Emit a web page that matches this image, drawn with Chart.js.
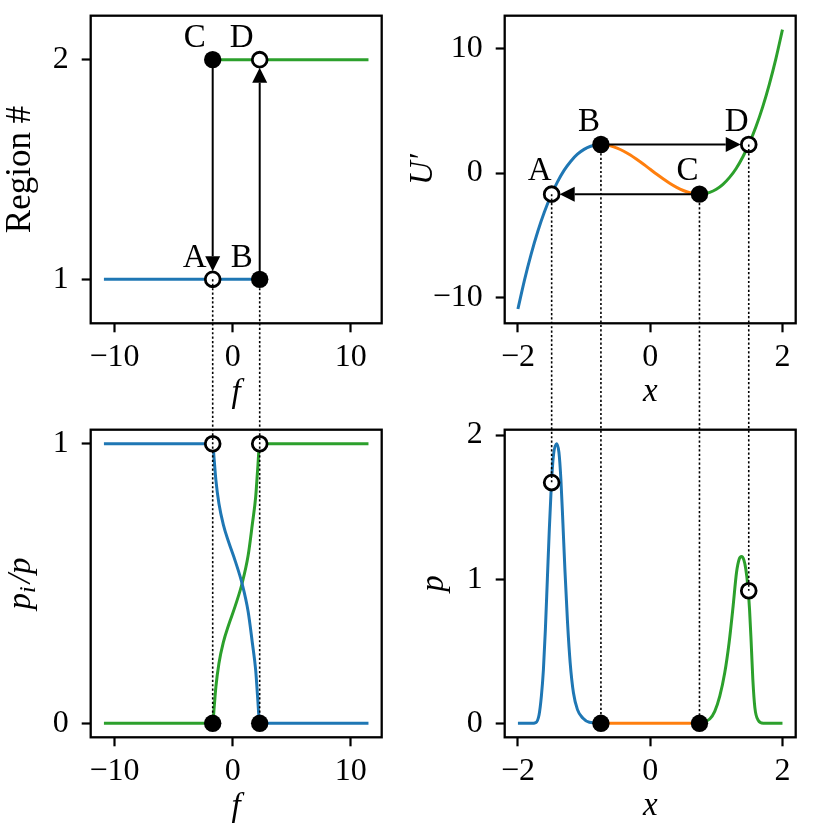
<!DOCTYPE html>
<html lang="es">
<head>
<meta charset="utf-8">
<title>Histeresis</title>
<script src="https://cdn.jsdelivr.net/npm/chart.js@4.4.1/dist/chart.umd.min.js"></script>
<style>
  html, body { margin: 0; padding: 0; background: #fff; }
  #figura { position: relative; width: 829px; height: 829px; }
  #figura canvas { position: absolute; left: 0; top: 0; }
</style>
</head>
<body>
<div id="figura">
  <canvas id="region" width="829" height="829"></canvas>
  <canvas id="potencial" width="829" height="829"></canvas>
  <canvas id="fraccion" width="829" height="829"></canvas>
  <canvas id="densidad" width="829" height="829"></canvas>
  <canvas id="conexiones" width="829" height="829"></canvas>
</div>
<script>
// ---- Datos ----

// Arriba izquierda: numero de region vs f
const fRegion1 = [-10.9, 2.29];
const region1 = [1, 1];
const fRegion2 = [-1.69, 11.5];
const region2 = [2, 2];

// Arriba derecha: U'(x) en tres ramas
const xUAzul = [-2.0, -1.9, -1.8, -1.7, -1.6, -1.5, -1.4, -1.3, -1.2, -1.1, -1.0, -0.9, -0.8, -0.745];
const uAzul = [-10.9, -8.56, -6.5, -4.69, -3.13, -1.8, -0.69, 0.23, 0.95, 1.51, 1.9, 2.15, 2.27, 2.29];
const xUNaranja = [-0.745, -0.7, -0.6, -0.5, -0.4, -0.3, -0.2, -0.1, 0, 0.1, 0.2, 0.3, 0.4, 0.5, 0.6, 0.7, 0.745];
const uNaranja = [2.29, 2.28, 2.18, 2.0, 1.75, 1.44, 1.08, 0.7, 0.3, -0.1, -0.48, -0.84, -1.15, -1.4, -1.58, -1.68, -1.69];
const xUVerde = [0.745, 0.8, 0.9, 1.0, 1.1, 1.2, 1.3, 1.4, 1.5, 1.6, 1.7, 1.8, 1.9, 2.0];
const uVerde = [-1.69, -1.67, -1.55, -1.3, -0.91, -0.35, 0.37, 1.29, 2.4, 3.73, 5.29, 7.1, 9.16, 11.5];

// Abajo izquierda: p_i/p vs f
const fFraccion = [-10.9, -1.69, -1.56, -1.42, -1.16, -0.785, -0.354, 0.221, 0.796, 1.31, 1.66, 1.95, 2.12, 2.29, 11.5];
const fraccionAzul = [1, 1, 0.94, 0.87, 0.785, 0.71, 0.65, 0.58, 0.5, 0.4, 0.29, 0.19, 0.09, 0, 0];
const fraccionVerde = [0, 0, 0.06, 0.13, 0.215, 0.29, 0.35, 0.42, 0.5, 0.6, 0.71, 0.81, 0.91, 1, 1];

// Abajo derecha: p(x)
const xPAzul = [-2.0, -1.9, -1.8, -1.73, -1.68, -1.645, -1.615, -1.585, -1.555, -1.525, -1.495, -1.465, -1.417, -1.38, -1.35, -1.32, -1.29, -1.25, -1.21, -1.16, -1.1, -1.02, -0.92, -0.745];
const pAzul = [0, 0, 0, 0.005, 0.06, 0.19, 0.37, 0.65, 1.0, 1.35, 1.65, 1.85, 1.94, 1.88, 1.69, 1.39, 1.07, 0.7, 0.42, 0.21, 0.095, 0.037, 0.007, 0];
const xPNaranja = [-0.745, 0.745];
const pNaranja = [0, 0];
const xPVerde = [0.745, 0.9, 0.976, 1.052, 1.127, 1.193, 1.254, 1.305, 1.345, 1.381, 1.416, 1.446, 1.476, 1.502, 1.527, 1.552, 1.583, 1.633, 1.709, 1.8, 1.9, 2.0];
const pVerde = [0, 0.03, 0.083, 0.188, 0.35, 0.559, 0.814, 1.046, 1.138, 1.157, 1.134, 1.069, 0.953, 0.791, 0.559, 0.304, 0.107, 0.021, 0, 0, 0, 0];

// Puntos A, B, C, D
const nombres = ['A', 'B', 'C', 'D'];
const rellenoPuntos = [false, true, true, false];
const fPuntos = [-1.69, 2.29, -1.69, 2.29];
const regionPuntos = [1, 1, 2, 2];
const xPuntos = [-1.49, -0.745, 0.745, 1.49];
const uPuntos = [-1.69, 2.29, -1.69, 2.29];
const pPuntos = [1.67, 0, 0, 0.92];
const fMarcasFraccion = [-1.69, 2.29, -1.69, 2.29];
const marcasFraccion = [0, 0, 1, 1];
const rellenoFraccion = [true, true, false, false];

// Ticks
const ticksF = [-10, 0, 10];
const ticksX = [-2, 0, 2];
const ticksRegion = [1, 2];
const ticksU = [-10, 0, 10];
const ticksFraccion = [0, 1];
const ticksP = [0, 1, 2];

// ---- Estilo ----
const ANCHO = 829;
const FUENTE = '"Liberation Serif", "Times New Roman", serif';
const AZUL = '#1f77b4';
const NARANJA = '#ff7f0e';
const VERDE = '#2ca02c';

function puntos(xs, ys) {
    return xs.map((x, i) => ({ x: x, y: ys[i] }));
}

function curva(xs, ys, color) {
    return {
        data: puntos(xs, ys),
        showLine: true,
        borderColor: color,
        borderWidth: 3,
        pointRadius: 0,
        cubicInterpolationMode: 'monotone',
        fill: false
    };
}

function marcas(xs, ys, rellenos) {
    return {
        data: puntos(xs, ys),
        showLine: false,
        pointRadius: rellenos.map(r => r ? 8.7 : 7.4),
        pointBackgroundColor: rellenos.map(r => r ? 'black' : 'white'),
        pointBorderColor: 'black',
        pointBorderWidth: rellenos.map(r => r ? 0 : 2.8)
    };
}

function formatoTick(valor) {
    return valor < 0 ? '\u2212' + Math.abs(valor) : String(valor);
}

// Eje lineal con tamano fijo para que el area del grafico quede donde queremos
function eje(cfg, horizontal, tamano) {
    return {
        type: 'linear',
        position: horizontal ? 'bottom' : 'left',
        min: cfg.min,
        max: cfg.max,
        afterBuildTicks: escala => { escala.ticks = cfg.ticks.map(v => ({ value: v })); },
        afterFit: escala => {
            if (horizontal) escala.height = tamano; else escala.width = tamano;
            escala.paddingTop = 0; escala.paddingBottom = 0;
            escala.paddingLeft = 0; escala.paddingRight = 0;
        },
        ticks: {
            color: 'black',
            font: { family: FUENTE, size: 32 },
            padding: horizontal ? 6 : 13,
            maxRotation: 0,
            minRotation: 0,
            autoSkip: false,
            callback: formatoTick
        },
        grid: { drawOnChartArea: false, drawTicks: true, tickLength: 9, tickWidth: 2.2, tickColor: 'black' },
        border: { display: false },
        title: cfg.titulo ? {
            display: true,
            text: cfg.titulo,
            color: 'black',
            font: { family: FUENTE, size: cfg.tamanoTitulo || 32, style: cfg.italica ? 'italic' : 'normal' },
            padding: horizontal ? { top: 0, bottom: cfg.relleno } : { top: cfg.relleno, bottom: 0 }
        } : { display: false }
    };
}

function flecha(ctx, x0, y0, x1, y1) {
    const ang = Math.atan2(y1 - y0, x1 - x0);
    const cos = Math.cos(ang), sin = Math.sin(ang);
    const xt = x1 - 8 * cos, yt = y1 - 8 * sin;
    const xb = xt - 15 * cos, yb = yt - 15 * sin;
    ctx.beginPath();
    ctx.moveTo(x0, y0);
    ctx.lineTo(xb, yb);
    ctx.stroke();
    ctx.beginPath();
    ctx.moveTo(xt, yt);
    ctx.lineTo(xb - 7.5 * sin, yb + 7.5 * cos);
    ctx.lineTo(xb + 7.5 * sin, yb - 7.5 * cos);
    ctx.closePath();
    ctx.fill();
}

// Marco, flechas y letras de cada panel
function notasPanel(notas) {
    return {
        id: 'notas',
        afterDatasetsDraw(chart) {
            const ctx = chart.ctx;
            const area = chart.chartArea;
            const ex = chart.scales.x, ey = chart.scales.y;
            ctx.save();
            ctx.strokeStyle = 'black';
            ctx.fillStyle = 'black';
            ctx.lineWidth = 2.3;
            ctx.strokeRect(area.left, area.top, area.right - area.left, area.bottom - area.top);
            if (notas) {
                ctx.lineWidth = 2;
                notas.flechas.forEach(par => {
                    const i = par[0], j = par[1];
                    flecha(ctx,
                        ex.getPixelForValue(notas.xs[i]), ey.getPixelForValue(notas.ys[i]),
                        ex.getPixelForValue(notas.xs[j]), ey.getPixelForValue(notas.ys[j]));
                });
                ctx.font = '33px ' + FUENTE;
                ctx.textAlign = 'center';
                ctx.textBaseline = 'middle';
                nombres.forEach((n, i) => {
                    ctx.fillText(n,
                        ex.getPixelForValue(notas.xs[i]) + notas.dx,
                        ey.getPixelForValue(notas.ys[i]) + notas.dy);
                });
            }
            ctx.restore();
        }
    };
}

// Titulo con subindice p_i/p
const tituloFraccion = {
    id: 'tituloFraccion',
    afterDraw(chart) {
        const ctx = chart.ctx;
        const yc = (chart.chartArea.top + chart.chartArea.bottom) / 2;
        const grande = 'italic 33px ' + FUENTE;
        const chica = 'italic 24px ' + FUENTE;
        ctx.save();
        ctx.translate(30, yc);
        ctx.rotate(-Math.PI / 2);
        ctx.fillStyle = 'black';
        ctx.textBaseline = 'alphabetic';
        ctx.textAlign = 'left';
        ctx.font = grande;
        const wp = ctx.measureText('p').width;
        const wr = ctx.measureText('/p').width;
        ctx.font = chica;
        const wi = ctx.measureText('i').width;
        let x = -(wp + wi + 3 + wr) / 2;
        ctx.font = grande;
        ctx.fillText('p', x, 0);
        x += wp;
        ctx.font = chica;
        ctx.fillText('i', x, 5);
        x += wi + 3;
        ctx.font = grande;
        ctx.fillText('/p', x, 0);
        ctx.restore();
    }
};

function crearPanel(idCanvas, panel) {
    const c = panel.caja;
    const canvas = document.getElementById(idCanvas);
    const plugins = [notasPanel(panel.notas)];
    if (panel.extra) plugins.push(panel.extra);
    return new Chart(canvas.getContext('2d'), {
        type: 'scatter',
        data: { datasets: panel.datasets },
        options: {
            responsive: false,
            animation: false,
            events: [],
            layout: {
                autoPadding: false,
                padding: { left: c.izq - c.anchoEjeY, top: c.arr, right: ANCHO - c.der, bottom: ANCHO - c.aba - c.altoEjeX }
            },
            plugins: { legend: { display: false }, tooltip: { enabled: false } },
            scales: {
                x: eje(panel.ejeX, true, c.altoEjeX),
                y: eje(panel.ejeY, false, c.anchoEjeY)
            }
        },
        plugins: plugins
    });
}

// ---- Paneles ----
const graficoRegion = crearPanel('region', {
    caja: { izq: 90.7, der: 381.7, arr: 15.7, aba: 323.3, anchoEjeY: 90.7, altoEjeX: 90.7 },
    ejeX: { min: -12.02, max: 12.62, ticks: ticksF, titulo: 'f', italica: true, relleno: 1.2, tamanoTitulo: 33 },
    ejeY: { min: 0.8, max: 2.2, ticks: ticksRegion, titulo: 'Region #', italica: false, relleno: 0, tamanoTitulo: 35 },
    datasets: [
        marcas(fPuntos, regionPuntos, rellenoPuntos),
        curva(fRegion1, region1, AZUL),
        curva(fRegion2, region2, VERDE)
    ],
    notas: { xs: fPuntos, ys: regionPuntos, flechas: [[2, 0], [1, 3]], dx: -18, dy: -21 }
});

const graficoPotencial = crearPanel('potencial', {
    caja: { izq: 504.7, der: 795.7, arr: 15.7, aba: 323.3, anchoEjeY: 100.7, altoEjeX: 90.7 },
    ejeX: { min: -2.2, max: 2.2, ticks: ticksX, titulo: 'x', italica: true, relleno: 1.8, tamanoTitulo: 33 },
    ejeY: { min: -12.05, max: 12.62, ticks: ticksU, titulo: 'U\u2032', italica: true, relleno: 0, tamanoTitulo: 33 },
    datasets: [
        marcas(xPuntos, uPuntos, rellenoPuntos),
        curva(xUAzul, uAzul, AZUL),
        curva(xUNaranja, uNaranja, NARANJA),
        curva(xUVerde, uVerde, VERDE)
    ],
    notas: { xs: xPuntos, ys: uPuntos, flechas: [[1, 3], [2, 0]], dx: -12, dy: -22.5 }
});

const graficoFraccion = crearPanel('fraccion', {
    caja: { izq: 90.7, der: 381.7, arr: 429.7, aba: 737.3, anchoEjeY: 90.7, altoEjeX: 91.7 },
    ejeX: { min: -12.02, max: 12.62, ticks: ticksF, titulo: 'f', italica: true, relleno: 1.5, tamanoTitulo: 33 },
    ejeY: { min: -0.05, max: 1.05, ticks: ticksFraccion, titulo: null },
    datasets: [
        marcas(fMarcasFraccion, marcasFraccion, rellenoFraccion),
        curva(fFraccion, fraccionAzul, AZUL),
        curva(fFraccion, fraccionVerde, VERDE)
    ],
    notas: null,
    extra: tituloFraccion
});

const graficoDensidad = crearPanel('densidad', {
    caja: { izq: 504.7, der: 795.7, arr: 429.7, aba: 737.3, anchoEjeY: 100.7, altoEjeX: 91.7 },
    ejeX: { min: -2.2, max: 2.2, ticks: ticksX, titulo: 'x', italica: true, relleno: 2.8, tamanoTitulo: 33 },
    ejeY: { min: -0.097, max: 2.037, ticks: ticksP, titulo: 'p', italica: true, relleno: 11, tamanoTitulo: 33 },
    datasets: [
        marcas(xPuntos, pPuntos, rellenoPuntos),
        curva(xPAzul, pAzul, AZUL),
        curva(xPNaranja, pNaranja, NARANJA),
        curva(xPVerde, pVerde, VERDE)
    ],
    notas: null
});

// Lineas punteadas que unen los paneles de arriba con los de abajo
function dibujarConexiones() {
    const lienzo = document.getElementById('conexiones');
    const dpr = window.devicePixelRatio || 1;
    lienzo.width = ANCHO * dpr;
    lienzo.height = ANCHO * dpr;
    lienzo.style.width = ANCHO + 'px';
    lienzo.style.height = ANCHO + 'px';
    const ctx = lienzo.getContext('2d');
    ctx.scale(dpr, dpr);
    ctx.strokeStyle = '#000';
    ctx.lineWidth = 1.6;
    ctx.setLineDash([2.2, 2.2]);

    const tramo = (gA, xa, ya, gB, xb, yb) => {
        ctx.beginPath();
        ctx.moveTo(gA.scales.x.getPixelForValue(xa), gA.scales.y.getPixelForValue(ya));
        ctx.lineTo(gB.scales.x.getPixelForValue(xb), gB.scales.y.getPixelForValue(yb));
        ctx.stroke();
    };

    // izquierda: A y B (region 1) hasta p_i/p = 0
    [0, 1].forEach(i => {
        tramo(graficoRegion, fPuntos[i], regionPuntos[i], graficoFraccion, fMarcasFraccion[i], marcasFraccion[i]);
    });
    // derecha: cada punto de U' hasta p
    nombres.forEach((n, i) => {
        tramo(graficoPotencial, xPuntos[i], uPuntos[i], graficoDensidad, xPuntos[i], pPuntos[i]);
    });
}

dibujarConexiones();
</script>
</body>
</html>
